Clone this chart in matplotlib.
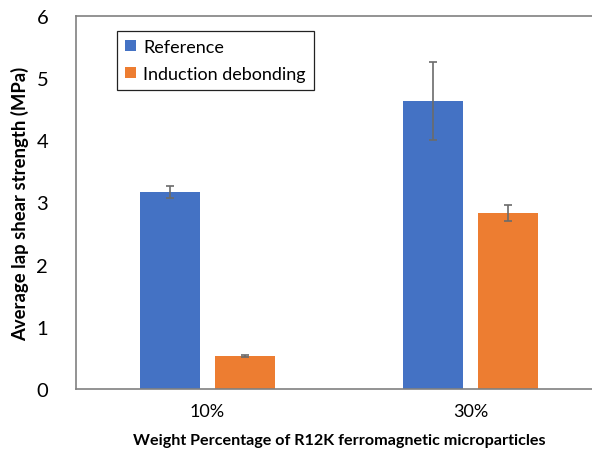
import numpy as np
import matplotlib.pyplot as plt

plt.rcParams["font.family"] = ["Lato", "DejaVu Sans"]

categories = ["10%", "30%"]
reference = [3.17, 4.63]
reference_err = [0.10, 0.63]
induction = [0.53, 2.83]
induction_err = [0.02, 0.135]

x = np.arange(len(categories))
width = 0.228
offset = 0.143

fig = plt.figure(figsize=(5.92, 4.52), dpi=100)
ax = fig.add_axes([0.1284, 0.1372, 0.8885, 0.8252])

err_style = dict(ecolor="#6b6b6b", elinewidth=1.2, capsize=3, capthick=1.2)
ax.bar(x - offset, reference, width, yerr=reference_err, color="#4472C4",
       label="Reference", error_kw=err_style)
ax.bar(x + offset, induction, width, yerr=induction_err, color="#ED7D31",
       label="Induction debonding", error_kw=err_style)

ax.set_xlim(-0.5, 1.5)
ax.set_ylim(0, 6)
ax.set_xticks(x)
ax.set_xticklabels(categories, fontsize=13)
ax.set_yticks(range(7))
ax.tick_params(axis="y", labelsize=14.5, length=0, pad=20)
ax.tick_params(axis="x", length=0, pad=10)

for side in ["left", "bottom", "top"]:
    ax.spines[side].set_color("#808080")
    ax.spines[side].set_linewidth(1.2)
ax.spines["right"].set_visible(False)

ax.set_ylabel("Average lap shear strength (MPa)", fontsize=13.3, fontweight="bold")
ax.yaxis.set_label_coords(-0.09, 0.5)
ax.set_xlabel("Weight Percentage of R12K ferromagnetic microparticles", fontsize=11.6,
              fontweight="bold", labelpad=10)

leg = ax.legend(loc="upper left", bbox_to_anchor=(0.078, 0.96), fontsize=13,
                fancybox=False, framealpha=1, edgecolor="#222222",
                borderaxespad=0,
                handlelength=0.6, handleheight=0.6, handletextpad=0.4,
                borderpad=0.45, labelspacing=0.6)
leg.get_frame().set_linewidth(0.9)

fig.savefig("out.png", dpi=100)
